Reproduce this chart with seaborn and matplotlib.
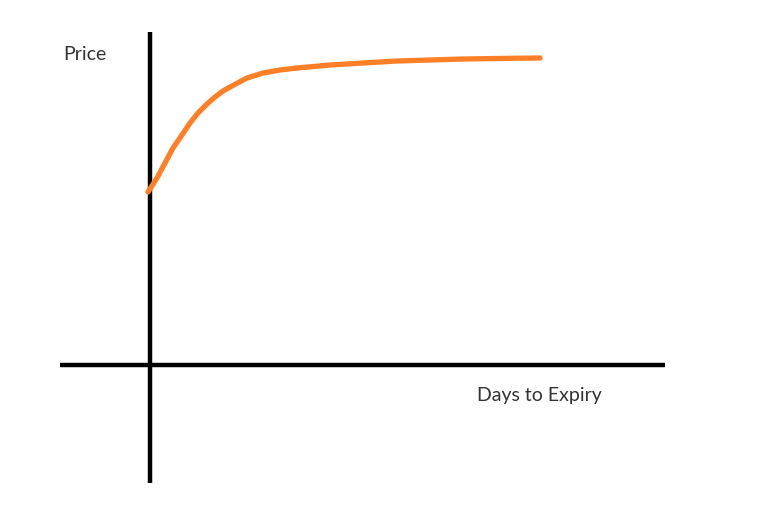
import numpy as np
import pandas as pd
import matplotlib.pyplot as plt
import seaborn as sns

# curve (days from the y axis, price above the x axis)
days = [-2, 7, 15, 23, 32, 40, 48, 57, 65, 73, 80, 97, 113, 130, 147,
        180, 213, 247, 280, 313, 347, 390]
price = [173, 187, 202, 217, 230, 242, 252, 261, 268, 274, 278, 287, 292,
         295, 297, 300, 302, 304, 305, 306, 306.5, 307]

# hand-drawn axes extents
x_axis_span = [-90, 515]
y_axis_span = [-118, 333]

sns.set_theme(style="white")
plt.rcParams['font.family'] = ['Lato', 'DejaVu Sans']

df = pd.DataFrame({"days": days, "price": price})

fig = plt.figure(figsize=(7.6, 5.07), dpi=100)
ax = fig.add_axes([0, 0, 1, 1])

ax.plot(x_axis_span, [0, 0], color="black", lw=3.2, solid_capstyle="butt")
ax.plot([0, 0], y_axis_span, color="black", lw=3.2, solid_capstyle="butt")

sns.lineplot(data=df, x="days", y="price", ax=ax, color="#ff7f27", lw=3.8,
             solid_capstyle="round", solid_joinstyle="round")

ax.text(-65.5, 310, "Price", fontsize=14, ha="center", va="center", color="#333333")
ax.text(389, -30, "Days to Expiry", fontsize=14, ha="center", va="center", color="#333333")

ax.set_xlim(-150, 610)
ax.set_ylim(-142, 365)
ax.axis("off")

fig.savefig("out.png", dpi=100)
